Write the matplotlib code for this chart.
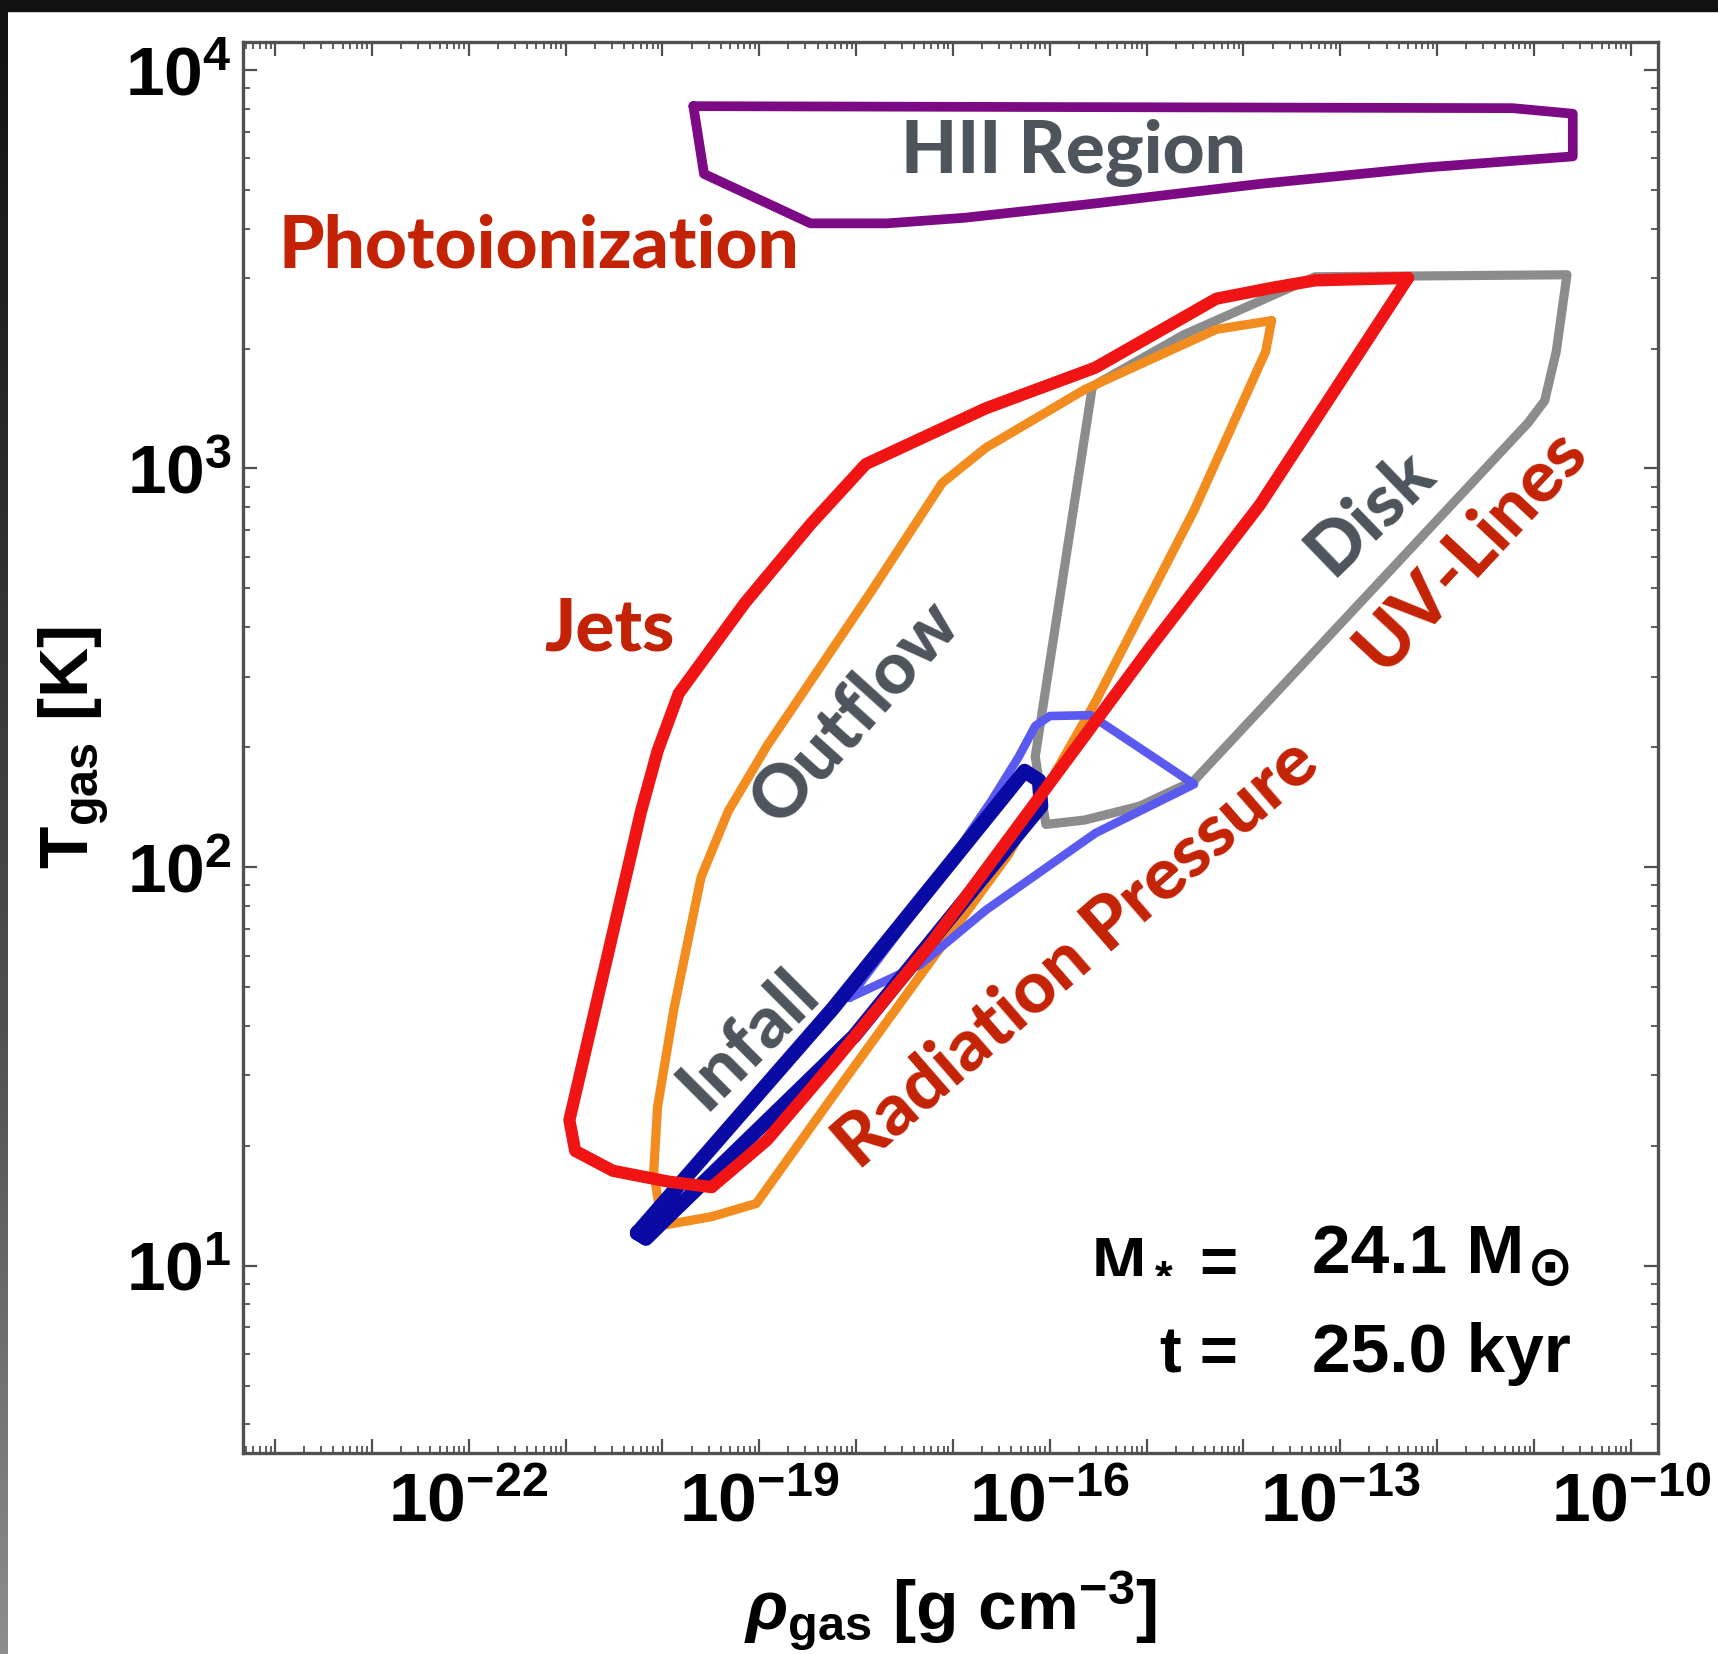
import numpy as np
import matplotlib
matplotlib.use("Agg")
import matplotlib.pyplot as plt
from matplotlib.colors import LinearSegmentedColormap
from matplotlib.ticker import FixedLocator, FuncFormatter, LogLocator, NullFormatter

# outlines of the phase-space regions, as log10(rho [g cm^-3]) and log10(T [K])
hii_logrho = [-19.68, -11.22, -10.60, -10.60, -12.13, -13.83, -15.53, -16.88, -17.68, -18.47, -19.57]
hii_logT = [3.909, 3.904, 3.890, 3.783, 3.755, 3.714, 3.665, 3.629, 3.615, 3.615, 3.739]

disk_logrho = [-15.56, -14.62, -13.60, -13.26, -10.66, -10.77, -10.89, -11.06, -14.51, -15.07, -15.64, -16.04, -16.15]
disk_logT = [3.206, 3.335, 3.445, 3.481, 3.486, 3.294, 3.170, 3.115, 2.217, 2.153, 2.118, 2.107, 2.277]

outflow_logrho = [-13.71, -13.77, -14.51, -15.53, -16.43, -17.34, -18.24, -19.03, -19.49, -20.00,
                  -20.09, -20.05, -19.88, -19.60, -19.32, -18.92, -17.85, -17.11, -16.66, -15.64, -14.28]
outflow_logT = [3.371, 3.294, 2.895, 2.414, 2.030, 1.727, 1.425, 1.156, 1.123, 1.101,
                1.233, 1.398, 1.645, 1.975, 2.140, 2.304, 2.689, 2.964, 3.052, 3.198, 3.349]

radp_logrho = [-18.07, -17.22, -16.60, -16.32, -16.15, -16.00, -15.58, -14.51, -15.53, -16.66, -17.34]
radp_logT = [1.672, 1.947, 2.167, 2.277, 2.354, 2.379, 2.381, 2.208, 2.085, 1.892, 1.755]

infall_logrho = [-20.26, -18.24, -16.26, -16.11, -16.09, -16.32, -18.02, -19.94, -20.17]
infall_logT = [1.082, 1.645, 2.241, 2.217, 2.153, 2.085, 1.576, 1.123, 1.068]

jets_logrho = [-12.30, -13.26, -13.71, -14.28, -15.53, -16.66, -17.90, -18.47, -19.15, -19.83, -20.05,
               -20.22, -20.96, -20.90, -20.51, -19.94, -19.49, -18.92, -18.24, -17.22, -16.09, -14.96, -13.83]
jets_logT = [3.478, 3.472, 3.453, 3.426, 3.253, 3.151, 3.011, 2.860, 2.662, 2.436, 2.291,
             2.140, 1.365, 1.288, 1.238, 1.211, 1.197, 1.315, 1.508, 1.810, 2.181, 2.552, 2.909]

x_labelled = [-22, -19, -16, -13, -10]

plt.rcParams.update({
    "font.family": "Liberation Sans",
    "font.weight": "bold",
    "axes.labelweight": "bold",
    "mathtext.fontset": "custom",
    "mathtext.rm": "Liberation Sans:bold",
    "mathtext.bf": "Liberation Sans:bold",
    "mathtext.it": "Liberation Sans:italic:bold",
    "mathtext.sf": "Liberation Sans:bold",
    "mathtext.default": "bf",
})

fig = plt.figure(figsize=(17.18, 16.54), dpi=100)
ax = fig.add_axes([243 / 1718, 1 - 1453 / 1654, 1415 / 1718, 1411 / 1654])

# dark frame of the screenshot (top band, left gradient strip)
fig.add_artist(plt.Rectangle((0, 1 - 11 / 1654), 1, 11 / 1654, transform=fig.transFigure,
                             color="#111111", zorder=0))
strip = fig.add_axes([0, 0, 8 / 1718, 1])
strip_cmap = LinearSegmentedColormap.from_list("strip", ["#111111", "#2f2f2f", "#555656", "#8c8e8e"])
strip.imshow(np.linspace(0, 1, 256)[:, None], cmap=strip_cmap, aspect="auto")
strip.axis("off")


def outline(lr, lt, color, lw, z):
    x = 10.0 ** np.append(lr, lr[0])
    y = 10.0 ** np.append(lt, lt[0])
    ax.plot(x, y, color=color, lw=lw, zorder=z, solid_joinstyle="round", solid_capstyle="round")


outline(hii_logrho, hii_logT, "#7d0a85", 7, 2)
outline(disk_logrho, disk_logT, "#8c8c8c", 6.6, 3)
outline(outflow_logrho, outflow_logT, "#f28c1e", 6.6, 4)
outline(radp_logrho, radp_logT, "#5a5af0", 6.2, 5)
outline(infall_logrho, infall_logT, "#0a0aa5", 10.5, 6)
outline(jets_logrho, jets_logT, "#f01414", 8.8, 7)

ax.set_xscale("log")
ax.set_yscale("log")
ax.set_xlim(10 ** -24.33, 10 ** -9.72)
ax.set_ylim(10 ** 0.53, 10 ** 4.07)

ax.xaxis.set_major_locator(FixedLocator(10.0 ** np.arange(-24, -9)))
ax.xaxis.set_major_formatter(FuncFormatter(
    lambda v, p: r"$10^{%d}$" % round(np.log10(v)) if round(np.log10(v)) in x_labelled else ""))
ax.xaxis.set_minor_locator(LogLocator(base=10, subs=np.arange(2, 10), numticks=100))
ax.xaxis.set_minor_formatter(NullFormatter())
ax.yaxis.set_major_locator(FixedLocator(10.0 ** np.arange(1, 5)))
ax.yaxis.set_major_formatter(FuncFormatter(lambda v, p: r"$10^{%d}$" % round(np.log10(v))))
ax.yaxis.set_minor_locator(LogLocator(base=10, subs=np.arange(2, 10), numticks=100))
ax.yaxis.set_minor_formatter(NullFormatter())

frame = "#505050"
for s in ax.spines.values():
    s.set_color(frame)
    s.set_linewidth(2.4)
ax.tick_params(which="both", direction="in", top=True, right=True, color=frame)
ax.tick_params(which="major", length=10, width=1.6, labelsize=50)
ax.tick_params(axis="x", which="major", pad=13)
ax.tick_params(axis="y", which="major", pad=8)
ax.tick_params(which="minor", length=5, width=1.3)

ax.set_xlabel(r"$\mathit{\rho}_{gas}$ [g cm$^{-3}$]", fontsize=50, fontweight="bold")
ax.xaxis.set_label_coords(0.5, -0.082)
ax.set_ylabel(r"$T_{gas}$ [K]", fontsize=50, fontweight="bold")
ax.yaxis.set_label_coords(-0.093, 0.5)

red_txt = "#c42204"
gray_txt = "#4d545c"
lab = dict(fontfamily="Lato", fontweight="black", fontsize=52.5, ha="center", va="center",
           transform=ax.transAxes, zorder=10)
ax.text(0.587, 0.921, "HII Region", color=gray_txt, **lab)
ax.text(0.209, 0.855, "Photoionization", color=red_txt, **lab)
ax.text(0.259, 0.583, "Jets", color=red_txt, **lab)
ax.text(0.4325, 0.525, "Outflow", color=gray_txt, rotation=48, **lab)
ax.text(0.7965, 0.667, "Disk", color=gray_txt, rotation=44, **lab)
ax.text(0.868, 0.640, "UV-Lines", color=red_txt, rotation=47, **lab)
ax.text(0.589, 0.354, "Radiation Pressure", color=red_txt, rotation=41, **lab)
ax.text(0.357, 0.293, "Infall", color=gray_txt, rotation=45, **lab)

info = dict(color="black", va="baseline", transform=ax.transAxes, zorder=10)
ax.text(0.703, 0.1276, r"M$_*$ =", ha="right", fontsize=47, **info)
mass = ax.text(0.7555, 0.1276, "24.1 M", ha="left", fontsize=50, **info)
ax.annotate("\u2299", xy=(1, 0), xycoords=mass, xytext=(2, 12), textcoords="offset points",
            fontsize=40, fontfamily="DejaVu Sans", fontweight="bold", ha="left", va="center",
            color="black", zorder=10)
ax.text(0.703, 0.0574, "t =", ha="right", fontsize=47, **info)
ax.text(0.7555, 0.0574, "25.0 kyr", ha="left", fontsize=50, **info)

fig.savefig("out.png", dpi=100, facecolor="white")
